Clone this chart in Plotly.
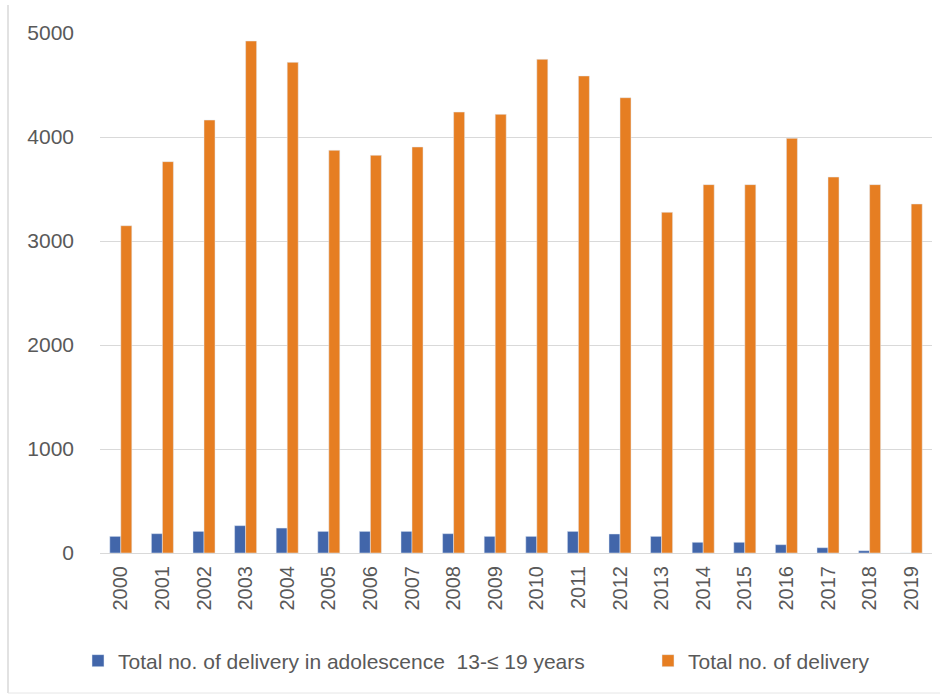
import plotly.graph_objects as go

years = [str(y) for y in range(2000, 2020)]
adolescent = [160, 186, 208, 263, 240, 208, 208, 208, 186, 160,
              160, 208, 183, 160, 103, 103, 80, 51, 22, 0]
total = [3147, 3763, 4163, 4923, 4718, 3872, 3824, 3904, 4240, 4218,
         4747, 4587, 4378, 3276, 3542, 3542, 3987, 3615, 3542, 3356]
y_ticks = [0, 1000, 2000, 3000, 4000, 5000]

name_a = "Total no. of delivery in adolescence\u00a0\u00a013-\u2264 19 years"
name_b = "Total no. of delivery"

W, H = 949, 698
L, R, T, B = 100, 17, 33, 145
pw, ph = W - L - R, H - T - B

def px_x(x):
    return (x - L) / pw

def px_y(y):
    return (H - B - y) / ph

fig = go.Figure()
fig.add_trace(go.Bar(x=years, y=adolescent, name=name_a, marker_color="#4266AA",
                     legend="legend"))
fig.add_trace(go.Bar(x=years, y=total, name=name_b, marker_color="#E67E22",
                     legend="legend2"))

fam = "Liberation Sans, Arial, sans-serif"
xfont = dict(family=fam, size=20, color="#595959")
yfont = dict(family=fam, size=21, color="#595959")
lfont = dict(family=fam, size=21, color="#595959")

fig.update_layout(
    width=W, height=H,
    margin=dict(l=L, r=R, t=T, b=B, autoexpand=False),
    paper_bgcolor="white", plot_bgcolor="white",
    barmode="group", bargap=0.47, bargroupgap=0,
    font=xfont,
    showlegend=True,
    legend=dict(orientation="h", x=px_x(78), xanchor="left", y=px_y(661), yanchor="middle",
                font=lfont, itemwidth=30, bgcolor="rgba(0,0,0,0)"),
    legend2=dict(orientation="h", x=px_x(648), xanchor="left", y=px_y(661), yanchor="middle",
                 font=lfont, itemwidth=30, bgcolor="rgba(0,0,0,0)"),
    xaxis=dict(type="category", tickangle=-90, showgrid=False, showline=True,
               linecolor="#D9D9D9", linewidth=1, ticks="", tickfont=xfont,
               ticklabelstandoff=4),
    yaxis=dict(range=[0, 5000], tickvals=y_ticks, ticktext=[str(v) for v in y_ticks],
               showgrid=True, gridcolor="#D9D9D9", gridwidth=1, zeroline=False,
               showline=False, ticks="", tickfont=yfont, ticklabelstandoff=25),
    shapes=[
        dict(type="line", xref="paper", yref="paper", x0=px_x(8), x1=px_x(8),
             y0=px_y(5), y1=px_y(693), line=dict(color="#D9D9D9", width=1.5)),
        dict(type="line", xref="paper", yref="paper", x0=px_x(8), x1=px_x(940),
             y0=px_y(693), y1=px_y(693), line=dict(color="#E6E6E6", width=1)),
    ],
)

fig.write_html("out.html")
